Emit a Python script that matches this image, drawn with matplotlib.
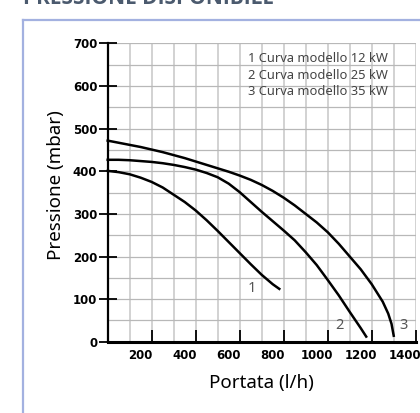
import matplotlib.pyplot as plt
from matplotlib.lines import Line2D

# dati (portata l/h, pressione mbar)
portata_12kw = [0, 50, 100, 150, 200, 250, 300, 350, 400, 450, 500, 550, 600, 650, 700, 750, 780]
pressione_12kw = [401, 398, 393, 385, 375, 362, 345, 328, 308, 285, 260, 234, 208, 182, 157, 135, 124]

portata_25kw = [0, 50, 100, 150, 200, 250, 300, 350, 400, 450, 500, 550, 600, 650, 700,
                750, 800, 850, 900, 950, 1000, 1050, 1100, 1150, 1175]
pressione_25kw = [427, 427, 426, 424, 422, 419, 415, 410, 404, 396, 386, 371, 351, 328, 305,
                  283, 261, 238, 210, 180, 145, 109, 70, 32, 12]

portata_35kw = [0, 50, 100, 150, 200, 250, 300, 350, 400, 450, 500, 550, 600, 650, 700, 750,
                800, 850, 900, 950, 1000, 1050, 1100, 1150, 1200, 1250, 1275, 1290, 1300]
pressione_35kw = [472, 467, 462, 457, 451, 445, 438, 431, 423, 415, 407, 399, 390, 380, 368, 354,
                  338, 320, 300, 280, 257, 230, 200, 170, 135, 94, 66, 42, 14]

legenda = ["1 Curva modello 12 kW", "2 Curva modello 25 kW", "3 Curva modello 35 kW"]
x_ticks = [200, 400, 600, 800, 1000, 1200, 1400]
y_ticks = [0, 100, 200, 300, 400, 500, 600, 700]

fig = plt.figure(figsize=(4.2, 4.13), dpi=100)
ax = fig.add_axes([0.2564, 0.1726, 0.7334, 0.7221])

# cornice azzurra e titolo tagliato in alto
fig.add_artist(Line2D([23 / 420, 23 / 420], [0, 1 - 20 / 413], color="#a3b1e0", lw=1.6))
fig.add_artist(Line2D([23 / 420, 1], [1 - 20 / 413, 1 - 20 / 413], color="#a3b1e0", lw=1.6))
fig.text(23 / 420, 1 - 3.5 / 413, "PRESSIONE DISPONIBILE", fontsize=15, fontweight="bold",
         color="#4b5a6e", family="Open Sans", va="baseline", ha="left")

# griglia
for gx in range(100, 1401, 100):
    ax.axvline(gx, color="#c6c6c6", lw=1.1, zorder=0)
for gy in range(50, 701, 50):
    ax.axhline(gy, color="#b8b8b8", lw=0.9, zorder=0)

ax.plot(portata_12kw, pressione_12kw, color="black", lw=1.8, clip_on=False)
ax.plot(portata_25kw, pressione_25kw, color="black", lw=1.8, clip_on=False)
ax.plot(portata_35kw, pressione_35kw, color="black", lw=1.8, clip_on=False)

num_style = dict(fontsize=10.5, color="#555555", family="Noto Sans", ha="center", va="center")
ax.text(655, 126, "1", **num_style)
ax.text(1052, 39, "2", **num_style)
ax.text(1344, 39, "3", **num_style)

for i, riga in enumerate(legenda):
    ax.text(637, 665 - i * 39, riga, fontsize=9.3, color="#444444", family="Noto Sans",
            ha="left", va="center")

ax.set_xlim(0, 1400)
ax.set_ylim(0, 700)

ax.set_xticks(x_ticks)
ax.set_xticklabels([""] * len(x_ticks))
ax.set_xticks([t - 50 for t in x_ticks], minor=True)
ax.set_xticklabels([str(t) for t in x_ticks], minor=True, fontsize=8.5, fontweight="bold")
ax.tick_params(axis="x", which="major", direction="in", length=9, width=1.3)
ax.tick_params(axis="x", which="minor", length=0, pad=5)

ax.set_yticks(y_ticks)
ax.set_yticklabels([str(t) for t in y_ticks], fontsize=8.5, fontweight="bold")
ax.tick_params(axis="y", direction="inout", length=13, width=1.3, pad=1)

for side in ["top", "right"]:
    ax.spines[side].set_visible(False)
ax.spines["bottom"].set_linewidth(2.2)
ax.spines["left"].set_linewidth(1.6)

ax.set_xlabel("Portata (l/h)", fontsize=13.5, family="Noto Sans", labelpad=9)
ax.set_ylabel("Pressione (mbar)", fontsize=13.5, family="Noto Sans")
ax.yaxis.set_label_coords(-0.139, 0.525)

fig.savefig("out.png", dpi=100)
